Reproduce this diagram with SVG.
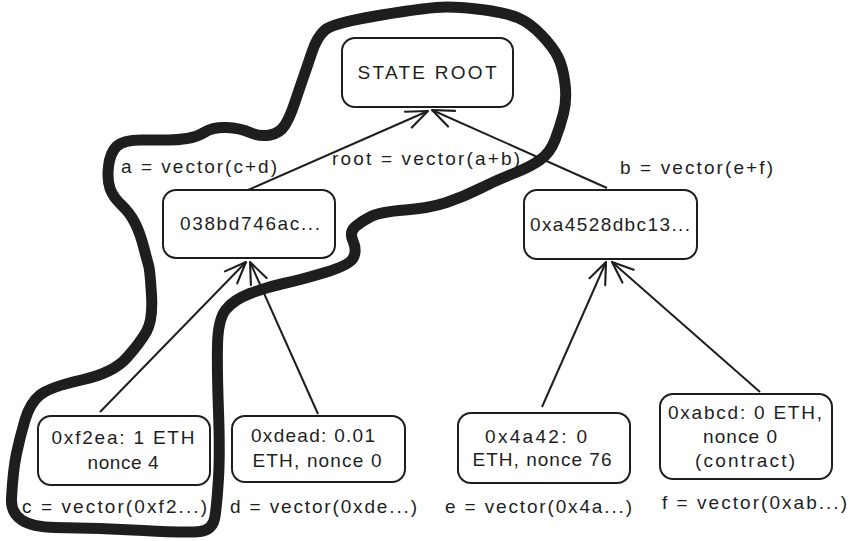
<svg xmlns="http://www.w3.org/2000/svg" width="856" height="541" viewBox="0 0 856 541">
  <defs>
    <style>
      .box { fill: #ffffff; stroke: #1e1e1e; stroke-width: 2; }
      .txt { font-family: "Liberation Sans", "Noto Sans", sans-serif; font-size: 19px; fill: #1e1e1e; text-anchor: middle; }
      .lbl { font-family: "Liberation Sans", "Noto Sans", sans-serif; font-size: 19px; fill: #1e1e1e; }
      .edge { fill: none; stroke: #1e1e1e; stroke-width: 2; marker-end: url(#head); }
      .loop { fill: none; stroke: #1e1e1e; stroke-width: 11; stroke-linejoin: round; stroke-linecap: round; }
    </style>
    <marker id="head" markerUnits="userSpaceOnUse" markerWidth="30" markerHeight="30" viewBox="-24 -12 28 24" refX="0" refY="0" orient="auto">
      <path d="M-20,-8 L0,0 L-20,8" fill="none" stroke="#1e1e1e" stroke-width="2" stroke-linecap="round" stroke-linejoin="round"/>
    </marker>
  </defs>
  <rect width="856" height="541" fill="#ffffff"/>

  <!-- hand-drawn highlight loop around the root path -->
  <path class="loop" d="M446.5,7 Q463,7 485,10 Q507,13 518.5,18 Q530,23 541.5,35 Q553,47 558,57 Q563,67 565,83.5 Q567,100 563.5,113.5 Q560,127 555,140 Q550,153 540,160 Q530,167 513.5,173.5 Q497,180 480,188.5 Q463,197 446.5,202.5 Q430,208 405,210 Q380,212 371,216.5 Q362,221 355.5,226.5 Q349,232 353,241 Q357,250 353.5,257.5 Q350,265 325,272.5 Q300,280 283.5,283.5 Q267,287 250,293.5 Q233,300 225.5,310 Q218,320 217.5,345 Q217,370 218.5,411.5 Q220,453 218.5,478 Q217,503 215,516.5 Q213,530 200,531.5 Q187,533 143.5,530.5 Q100,528 55,527.5 Q10,527 11.5,498.5 Q13,470 16.5,453.5 Q20,437 25,420 Q30,403 40,395 Q50,387 81.5,380 Q113,373 126.5,358 Q140,343 146.5,331.5 Q153,320 151.5,295 Q150,270 148.5,265 Q147,260 143.5,246.5 Q140,233 135,223 Q130,213 121.5,205 Q113,197 110,188.5 Q107,180 108.5,166.5 Q110,153 116.5,146.5 Q123,140 141.5,140 Q160,140 168.5,140 Q177,140 187,138.5 Q197,137 205,132 Q213,127 226.5,127.5 Q240,128 250,132.5 Q260,137 270,135 Q280,133 285,125 Q290,117 295,102 Q300,87 303.5,77 Q307,67 312,52 Q317,37 325,30 Q333,23 381.5,15 Q430,7 446.5,7 Z"/>

  <!-- connectors -->
  <g id="connectors">
    <line class="edge" x1="248" y1="190" x2="428" y2="111"/>
    <line class="edge" x1="607" y1="188" x2="432" y2="110"/>
    <line class="edge" x1="100" y1="412" x2="246" y2="262"/>
    <line class="edge" x1="318" y1="414" x2="250" y2="262"/>
    <line class="edge" x1="542" y1="407" x2="606" y2="262"/>
    <line class="edge" x1="760" y1="392" x2="612" y2="262"/>
  </g>

  <!-- nodes -->
  <g id="state-root">
    <rect class="box" x="342" y="38" width="171" height="69" rx="13"/>
    <text class="txt" x="427" y="79" textLength="139">STATE ROOT</text>
  </g>
  <g id="node-a">
    <rect class="box" x="163" y="190" width="172" height="68" rx="13"/>
    <text class="txt" x="250" y="230" textLength="140">038bd746ac...</text>
  </g>
  <g id="node-b">
    <rect class="box" x="524" y="190" width="173" height="69" rx="13"/>
    <text class="txt" x="610" y="231" textLength="160">0xa4528dbc13...</text>
  </g>
  <g id="node-c">
    <rect class="box" x="38" y="416" width="172" height="69" rx="13"/>
    <text class="txt" x="123" y="444" textLength="143">0xf2ea: 1 ETH</text>
    <text class="txt" x="123" y="469" textLength="71">nonce 4</text>
  </g>
  <g id="node-d">
    <rect class="box" x="232" y="416" width="173" height="66" rx="13"/>
    <text class="txt" x="313" y="442" textLength="124">0xdead: 0.01</text>
    <text class="txt" x="317" y="467" textLength="129">ETH, nonce 0</text>
  </g>
  <g id="node-e">
    <rect class="box" x="458" y="413" width="172" height="70" rx="13"/>
    <text class="txt" x="536" y="443" textLength="102">0x4a42: 0</text>
    <text class="txt" x="542" y="466" textLength="139">ETH, nonce 76</text>
  </g>
  <g id="node-f">
    <rect class="box" x="660" y="394" width="172" height="85" rx="13"/>
    <text class="txt" x="745" y="419" textLength="154">0xabcd: 0 ETH,</text>
    <text class="txt" x="740" y="443" textLength="74">nonce 0</text>
    <text class="txt" x="745" y="467" textLength="100">(contract)</text>
  </g>

  <!-- hash labels -->
  <g id="labels">
    <text class="lbl" x="121" y="173" textLength="156">a = vector(c+d)</text>
    <text class="lbl" x="332" y="165" textLength="188">root = vector(a+b)</text>
    <text class="lbl" x="620" y="174" textLength="153">b = vector(e+f)</text>
    <text class="lbl" x="22" y="513" textLength="185">c = vector(0xf2...)</text>
    <text class="lbl" x="230" y="513" textLength="187">d = vector(0xde...)</text>
    <text class="lbl" x="445" y="513" textLength="187">e = vector(0x4a...)</text>
    <text class="lbl" x="662" y="509" textLength="185">f = vector(0xab...)</text>
  </g>
</svg>
